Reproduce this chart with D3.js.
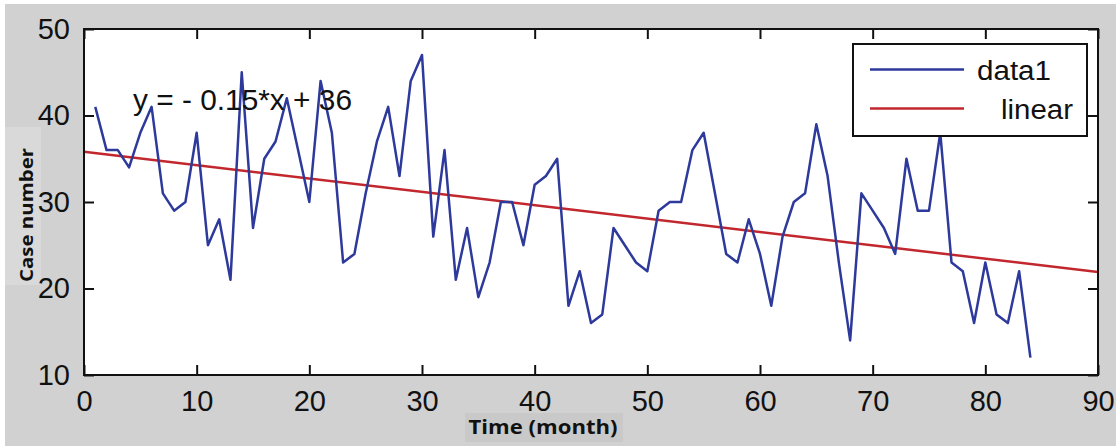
<!DOCTYPE html>
<html>
<head>
<meta charset="utf-8">
<script src="https://cdn.jsdelivr.net/npm/d3@7"></script>
<style>
  html, body { margin: 0; padding: 0; background: #ffffff; }
  svg { display: block; }
</style>
</head>
<body>
<svg id="chart" width="1116" height="446"></svg>
<script>
// ---- data ----
const months = [];
for (let i = 1; i <= 84; i++) months.push(i);
const cases = [41, 36, 36, 34, 38, 41, 31, 29, 30, 38,
               25, 28, 21, 45, 27, 35, 37, 42, 36, 30,
               44, 38, 23, 24, 31, 37, 41, 33, 44, 47,
               26, 36, 21, 27, 19, 23, 30, 30, 25, 32,
               33, 35, 18, 22, 16, 17, 27, 25, 23, 22,
               29, 30, 30, 36, 38, 31, 24, 23, 28, 24,
               18, 26, 30, 31, 39, 33, 23, 14, 31, 29,
               27, 24, 35, 29, 29, 38, 23, 22, 16, 23,
               17, 16, 22, 12];
const linearX = [0, 90];
const linearY = [35.8, 21.9];
const xTicks = [0, 10, 20, 30, 40, 50, 60, 70, 80, 90];
const yTicks = [10, 20, 30, 40, 50];
const legendLabels = ["data1", "linear"];
const equationText = "y = - 0.15*x + 36";
const xTitle = "Time (month)";
const yTitle = "Case number";

// ---- layout ----
const W = 1116, H = 446;
const L = 84, R = 1098, T = 29, B = 375;
const blue = "#2d3a9c", red = "#c1272d";

const svg = d3.select("#chart");
svg.append("rect").attr("x", 0).attr("y", 0).attr("width", W).attr("height", H).attr("fill", "#ffffff");
svg.append("rect").attr("x", 5).attr("y", 4).attr("width", W - 5).attr("height", H - 4).attr("fill", "#d1d1d1");
// lighter / darker boxes behind axis titles
svg.append("rect").attr("x", 5).attr("y", 127).attr("width", 36).attr("height", 158).attr("fill", "#d9d9d9");
svg.append("rect").attr("x", 465).attr("y", 413).attr("width", 158).attr("height", 29).attr("fill", "#c9c9c9");

const x = d3.scaleLinear().domain([0, 90]).range([L, R]);
const y = d3.scaleLinear().domain([10, 50]).range([B, T]);

// plot area
svg.append("rect").attr("x", L).attr("y", T).attr("width", R - L).attr("height", B - T).attr("fill", "#ffffff");

svg.append("clipPath").attr("id", "clip")
  .append("rect").attr("x", L).attr("y", T).attr("width", R - L).attr("height", B - T);

const g = svg.append("g").attr("clip-path", "url(#clip)");

// fit line
g.append("path")
  .datum(linearX.map((d, i) => [d, linearY[i]]))
  .attr("d", d3.line().x(d => x(d[0])).y(d => y(d[1])))
  .attr("fill", "none").attr("stroke", red).attr("stroke-width", 2.5);

// data line
g.append("path")
  .datum(months.map((m, i) => [m, cases[i]]))
  .attr("d", d3.line().x(d => x(d[0])).y(d => y(d[1])))
  .attr("fill", "none").attr("stroke", blue).attr("stroke-width", 2.5)
  .attr("stroke-linejoin", "round");

// axes (inner ticks)
const tickLen = 10;
const font = "'Liberation Sans', Arial, Helvetica, sans-serif";

const xAxisB = d3.axisBottom(x).tickValues(xTicks).tickSizeInner(-tickLen).tickSizeOuter(0).tickPadding(15);
const gxb = svg.append("g").attr("transform", `translate(0,${B})`).call(xAxisB);
gxb.selectAll("text").attr("font-family", font).attr("font-size", 29).attr("fill", "#111").attr("dy", "0.72em");

const yAxisL = d3.axisLeft(y).tickValues(yTicks).tickSizeInner(-tickLen).tickSizeOuter(0).tickPadding(14);
const gyl = svg.append("g").attr("transform", `translate(${L},0)`).call(yAxisL);
gyl.selectAll("text").attr("font-family", font).attr("font-size", 29).attr("fill", "#111");

const gxt = svg.append("g").attr("transform", `translate(0,${T})`)
  .call(d3.axisTop(x).tickValues(xTicks).tickSizeInner(-tickLen).tickSizeOuter(0).tickFormat(""));
const gyr = svg.append("g").attr("transform", `translate(${R},0)`)
  .call(d3.axisRight(y).tickValues(yTicks).tickSizeInner(-tickLen).tickSizeOuter(0).tickFormat(""));

[gxb, gyl, gxt, gyr].forEach(a => {
  a.select(".domain").remove();
  a.selectAll("line").attr("stroke", "#111").attr("stroke-width", 2);
});

// frame
svg.append("rect").attr("x", L).attr("y", T).attr("width", R - L).attr("height", B - T)
  .attr("fill", "none").attr("stroke", "#111").attr("stroke-width", 2);

// equation
svg.append("text").attr("x", 133).attr("y", 110)
  .attr("font-family", font).attr("font-size", 30).attr("fill", "#111")
  .attr("textLength", 219).attr("lengthAdjust", "spacingAndGlyphs")
  .text(equationText);

// legend
const lg = svg.append("g");
lg.append("rect").attr("x", 853).attr("y", 44).attr("width", 234).attr("height", 92)
  .attr("fill", "#ffffff").attr("stroke", "#111").attr("stroke-width", 2);
const legColors = [blue, red];
const legY = [69.5, 108.5];
const legTextX = [977, 1001];
const legTextLen = [74, 72];
legendLabels.forEach((lab, i) => {
  lg.append("line").attr("x1", 870).attr("x2", 964).attr("y1", legY[i]).attr("y2", legY[i])
    .attr("stroke", legColors[i]).attr("stroke-width", 2.5);
  lg.append("text").attr("x", legTextX[i]).attr("y", legY[i] + 10)
    .attr("font-family", font).attr("font-size", 27).attr("fill", "#111")
    .attr("textLength", legTextLen[i]).attr("lengthAdjust", "spacingAndGlyphs")
    .text(lab);
});

// axis titles
const boldFont = "'Open Sans', 'DejaVu Sans', sans-serif";
svg.append("text").attr("x", 543).attr("y", 434).attr("text-anchor", "middle")
  .attr("font-family", boldFont).attr("font-weight", "bold").attr("font-size", 19).attr("fill", "#111")
  .attr("textLength", 149).attr("lengthAdjust", "spacingAndGlyphs")
  .text(xTitle);
svg.append("text").attr("transform", "translate(33,215) rotate(-90)").attr("text-anchor", "middle")
  .attr("font-family", boldFont).attr("font-weight", "bold").attr("font-size", 18).attr("fill", "#111")
  .attr("textLength", 134).attr("lengthAdjust", "spacingAndGlyphs")
  .text(yTitle);
</script>
</body>
</html>
